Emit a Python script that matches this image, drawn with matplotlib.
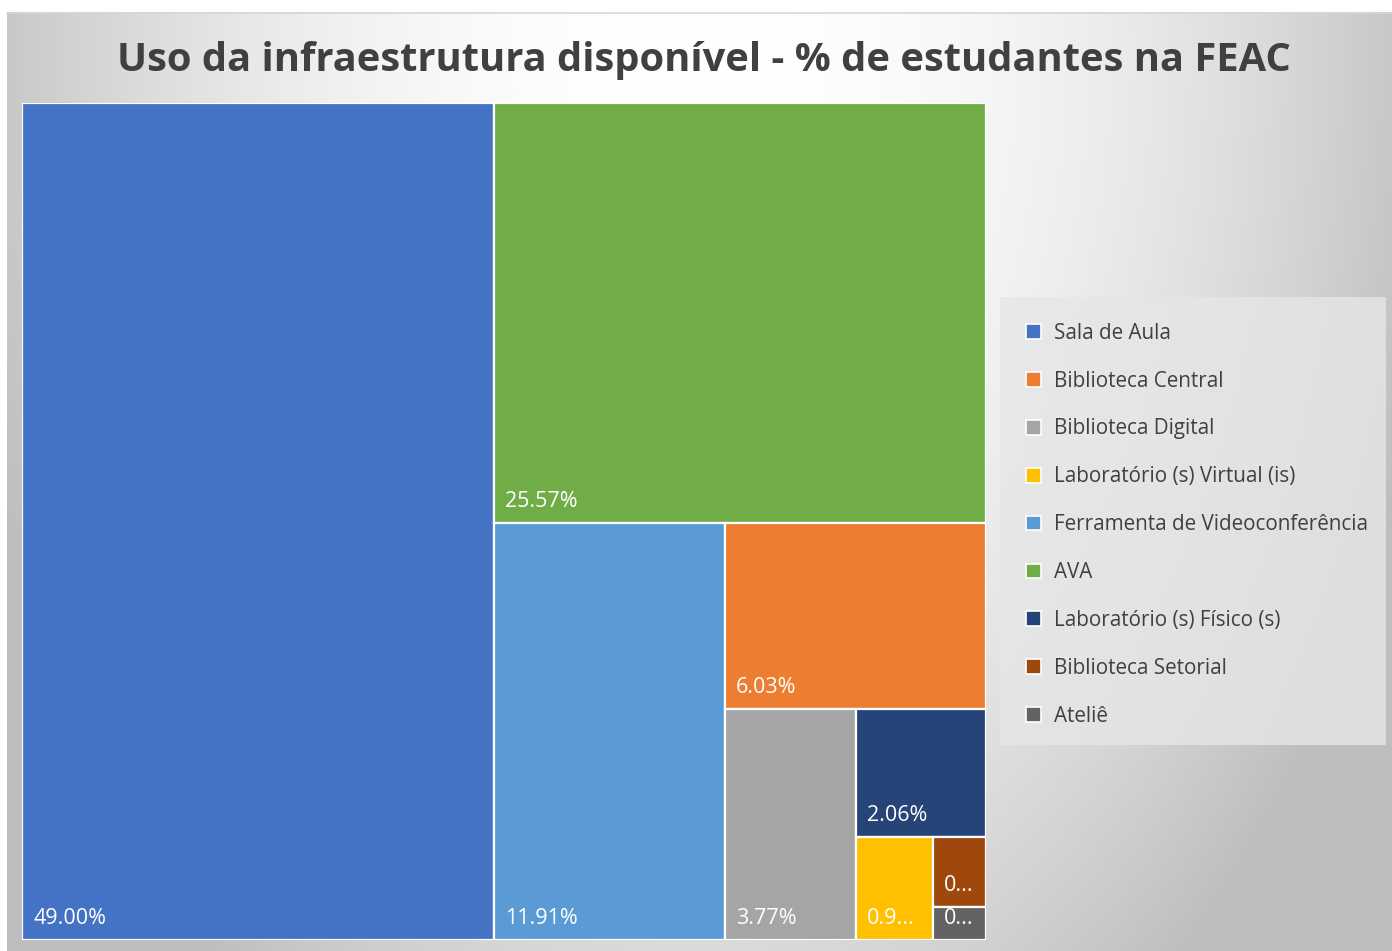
import numpy as np
import matplotlib
matplotlib.use("Agg")
import matplotlib.pyplot as plt
from matplotlib.patches import Rectangle, Patch

plt.rcParams['font.family'] = ['Open Sans', 'DejaVu Sans']

# categories in legend order
categories = ["Sala de Aula", "Biblioteca Central", "Biblioteca Digital",
              "Laboratório (s) Virtual (is)", "Ferramenta de Videoconferência",
              "AVA", "Laboratório (s) Físico (s)", "Biblioteca Setorial", "Ateliê"]
shares = [49.00, 6.03, 3.77, 0.98, 11.91, 25.57, 2.06, 0.46, 0.22]
colors = ["#4472C4", "#ED7D31", "#A5A5A5", "#FFC000", "#5B9BD5",
          "#70AD47", "#264478", "#9E480E", "#636363"]

W, H, DPI = 1392, 951, 100
fig = plt.figure(figsize=(W / DPI, H / DPI), dpi=DPI)
fig.patch.set_facecolor("white")

# gradient chart background
bg = fig.add_axes([7 / W, 0, 1 - 7 / W, (H - 12) / H])
yy, xx = np.mgrid[0:H - 12, 0:W - 7]
d = np.sqrt(((xx - 690) / 700.0) ** 2 + ((yy - 40) / 1100.0) ** 2)
g = 1 - 0.22 * np.clip(d, 0, 1.08) ** 2
bg.imshow(np.dstack([g, g, g]), aspect="auto", interpolation="bilinear")
bg.set_axis_off()
fig.add_artist(plt.Line2D([7 / W, 1], [1 - 12.5 / H, 1 - 12.5 / H],
                          color="#d6d6d6", lw=1.2))

ax = fig.add_axes([22 / W, 11 / H, (986 - 22) / W, (940 - 103) / H])
ax.set_xlim(0, 1)
ax.set_ylim(0, 1)
ax.set_axis_off()

# slice-and-dice treemap, alternating direction, largest first
order = np.argsort(shares)[::-1]
x0, y0, x1, y1 = 0.0, 0.0, 1.0, 1.0
remaining = sum(shares)
vertical = True
rects = []
for k, i in enumerate(order):
    v = shares[i]
    frac = v / remaining if k < len(order) - 1 else 1.0
    if vertical:
        w = (x1 - x0) * frac
        rects.append((i, x0, y0, w, y1 - y0))
        x0 += w
    else:
        h = (y1 - y0) * frac
        rects.append((i, x0, y1 - h, x1 - x0, h))
        y1 -= h
    remaining -= v
    vertical = not vertical

fig.canvas.draw()
renderer = fig.canvas.get_renderer()
for i, rx, ry, rw, rh in rects:
    ax.add_patch(Rectangle((rx, ry), rw, rh, facecolor=colors[i],
                           edgecolor="white", linewidth=1.6))
    label = f"{shares[i]:.2f}%"
    t = ax.annotate(label, (rx, ry), xytext=(8, 8), textcoords="offset points",
                    color="white", fontsize=15.5, ha="left", va="bottom")
    box_w = ax.transData.transform((rx + rw, 0))[0] - ax.transData.transform((rx, 0))[0]
    n = len(label)
    while t.get_window_extent(renderer).width > box_w - 20 and n > 1:
        n -= 1
        t.set_text(label[:n].rstrip(".") + "...")

fig.text(0.5 + 7 / W / 2 + 0.003, 1 - 60 / H,
         "Uso da infraestrutura disponível - % de estudantes na FEAC",
         ha="center", va="center", fontsize=28.7, fontweight="bold", color="#404040")

# legend panel
fig.add_artist(Rectangle((1000 / W, 1 - 745 / H), 386 / W, 448 / H,
                         transform=fig.transFigure, facecolor="#e6e6e6",
                         edgecolor="none", alpha=0.8))
handles = [Patch(facecolor=c, edgecolor="white", linewidth=1.2) for c in colors]
leg = fig.legend(handles, categories, loc="upper left",
                 bbox_to_anchor=(1000 / W, 1 - 297 / H), fontsize=14.9,
                 frameon=False, handlelength=0.72, handleheight=0.72,
                 handletextpad=0.65, labelspacing=1.30, borderpad=1.24,
                 borderaxespad=0, labelcolor="#404040")

fig.savefig("out.png", dpi=DPI)
